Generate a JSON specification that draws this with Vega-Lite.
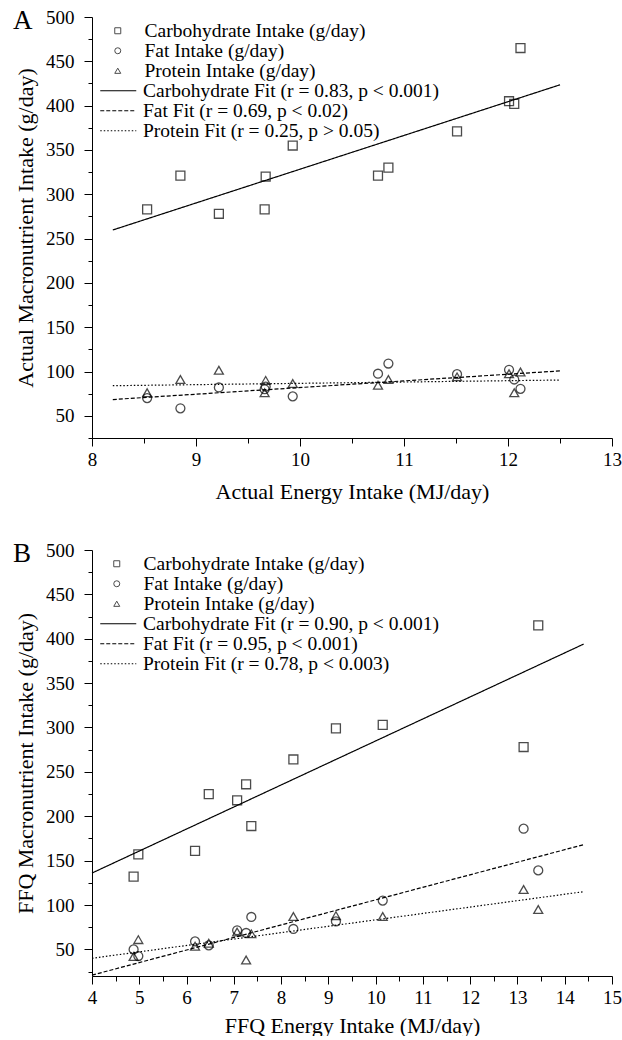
{
  "$schema": "https://vega.github.io/schema/vega-lite/v6.json",
  "background": "white",
  "padding": {"left": 13, "top": 8, "right": 0, "bottom": 0},
  "spacing": 39,
  "config": {
    "font": "Liberation Serif",
    "view": {"stroke": null},
    "axis": {
      "grid": false,
      "domainColor": "black",
      "domainWidth": 1,
      "tickColor": "black",
      "tickWidth": 1,
      "labelColor": "black",
      "titleColor": "black",
      "labelFont": "Liberation Serif",
      "titleFont": "Liberation Serif",
      "labelFontSize": 19,
      "titleFontSize": 22,
      "titleFontWeight": "normal",
      "labelFlush": false,
      "labelOverlap": false,
      "labelBound": false
    },
    "legend": {
      "labelFont": "Liberation Serif",
      "labelFontSize": 19.5,
      "labelColor": "black",
      "labelLimit": 0,
      "padding": 0,
      "rowPadding": 0.5,
      "labelOffset": 15,
      "symbolStrokeColor": "black",
      "symbolStrokeWidth": 1,
      "titleFont": "Liberation Serif",
      "titleFontSize": 27,
      "titleFontWeight": "normal",
      "titleColor": "black"
    }
  },
  "resolve": {
    "scale": {"shape": "independent", "strokeDash": "independent"},
    "legend": {"shape": "independent", "strokeDash": "independent"}
  },
  "datasets": {
    "a_points": [
      {"energy": 8.53, "intake": 283, "series": "Carbohydrate Intake (g/day)"},
      {"energy": 8.85, "intake": 321, "series": "Carbohydrate Intake (g/day)"},
      {"energy": 9.22, "intake": 278, "series": "Carbohydrate Intake (g/day)"},
      {"energy": 9.66, "intake": 283, "series": "Carbohydrate Intake (g/day)"},
      {"energy": 9.67, "intake": 320, "series": "Carbohydrate Intake (g/day)"},
      {"energy": 9.93, "intake": 355, "series": "Carbohydrate Intake (g/day)"},
      {"energy": 10.75, "intake": 321, "series": "Carbohydrate Intake (g/day)"},
      {"energy": 10.85, "intake": 330, "series": "Carbohydrate Intake (g/day)"},
      {"energy": 11.51, "intake": 371, "series": "Carbohydrate Intake (g/day)"},
      {"energy": 12.01, "intake": 405, "series": "Carbohydrate Intake (g/day)"},
      {"energy": 12.06, "intake": 402, "series": "Carbohydrate Intake (g/day)"},
      {"energy": 12.12, "intake": 465, "series": "Carbohydrate Intake (g/day)"},
      {"energy": 8.53, "intake": 70, "series": "Fat Intake (g/day)"},
      {"energy": 8.85, "intake": 58.5, "series": "Fat Intake (g/day)"},
      {"energy": 9.22, "intake": 82, "series": "Fat Intake (g/day)"},
      {"energy": 9.66, "intake": 80, "series": "Fat Intake (g/day)"},
      {"energy": 9.67, "intake": 83, "series": "Fat Intake (g/day)"},
      {"energy": 9.93, "intake": 72, "series": "Fat Intake (g/day)"},
      {"energy": 10.75, "intake": 97.5, "series": "Fat Intake (g/day)"},
      {"energy": 10.85, "intake": 109, "series": "Fat Intake (g/day)"},
      {"energy": 11.51, "intake": 97, "series": "Fat Intake (g/day)"},
      {"energy": 12.01, "intake": 102, "series": "Fat Intake (g/day)"},
      {"energy": 12.06, "intake": 91, "series": "Fat Intake (g/day)"},
      {"energy": 12.12, "intake": 80.5, "series": "Fat Intake (g/day)"},
      {"energy": 8.53, "intake": 76, "series": "Protein Intake (g/day)"},
      {"energy": 8.85, "intake": 91, "series": "Protein Intake (g/day)"},
      {"energy": 9.22, "intake": 101.5, "series": "Protein Intake (g/day)"},
      {"energy": 9.66, "intake": 76, "series": "Protein Intake (g/day)"},
      {"energy": 9.67, "intake": 90, "series": "Protein Intake (g/day)"},
      {"energy": 9.93, "intake": 86.5, "series": "Protein Intake (g/day)"},
      {"energy": 10.75, "intake": 84.5, "series": "Protein Intake (g/day)"},
      {"energy": 10.85, "intake": 91, "series": "Protein Intake (g/day)"},
      {"energy": 11.51, "intake": 94, "series": "Protein Intake (g/day)"},
      {"energy": 12.01, "intake": 97.5, "series": "Protein Intake (g/day)"},
      {"energy": 12.06, "intake": 76, "series": "Protein Intake (g/day)"},
      {"energy": 12.12, "intake": 99.5, "series": "Protein Intake (g/day)"}
    ],
    "a_fits": [
      {"energy": 8.2, "intake": 259.7, "fit": "Carbohydrate Fit (r = 0.83, p < 0.001)"},
      {"energy": 12.5, "intake": 423.5, "fit": "Carbohydrate Fit (r = 0.83, p < 0.001)"},
      {"energy": 8.2, "intake": 68.4, "fit": "Fat Fit (r = 0.69, p < 0.02)"},
      {"energy": 12.5, "intake": 100.7, "fit": "Fat Fit (r = 0.69, p < 0.02)"},
      {"energy": 8.2, "intake": 84, "fit": "Protein Fit (r = 0.25, p > 0.05)"},
      {"energy": 12.5, "intake": 90.4, "fit": "Protein Fit (r = 0.25, p > 0.05)"}
    ],
    "b_points": [
      {"energy": 4.88, "intake": 132, "series": "Carbohydrate Intake (g/day)"},
      {"energy": 4.98, "intake": 157, "series": "Carbohydrate Intake (g/day)"},
      {"energy": 6.18, "intake": 161, "series": "Carbohydrate Intake (g/day)"},
      {"energy": 6.47, "intake": 225, "series": "Carbohydrate Intake (g/day)"},
      {"energy": 7.07, "intake": 218, "series": "Carbohydrate Intake (g/day)"},
      {"energy": 7.26, "intake": 236, "series": "Carbohydrate Intake (g/day)"},
      {"energy": 7.37, "intake": 189, "series": "Carbohydrate Intake (g/day)"},
      {"energy": 8.26, "intake": 264, "series": "Carbohydrate Intake (g/day)"},
      {"energy": 9.16, "intake": 299, "series": "Carbohydrate Intake (g/day)"},
      {"energy": 10.15, "intake": 303, "series": "Carbohydrate Intake (g/day)"},
      {"energy": 13.13, "intake": 278, "series": "Carbohydrate Intake (g/day)"},
      {"energy": 13.44, "intake": 415, "series": "Carbohydrate Intake (g/day)"},
      {"energy": 4.88, "intake": 50, "series": "Fat Intake (g/day)"},
      {"energy": 4.98, "intake": 42.5, "series": "Fat Intake (g/day)"},
      {"energy": 6.18, "intake": 59, "series": "Fat Intake (g/day)"},
      {"energy": 6.47, "intake": 54.5, "series": "Fat Intake (g/day)"},
      {"energy": 7.07, "intake": 71.5, "series": "Fat Intake (g/day)"},
      {"energy": 7.26, "intake": 68.5, "series": "Fat Intake (g/day)"},
      {"energy": 7.37, "intake": 86.5, "series": "Fat Intake (g/day)"},
      {"energy": 8.26, "intake": 73, "series": "Fat Intake (g/day)"},
      {"energy": 9.16, "intake": 81.5, "series": "Fat Intake (g/day)"},
      {"energy": 10.15, "intake": 105, "series": "Fat Intake (g/day)"},
      {"energy": 13.13, "intake": 186, "series": "Fat Intake (g/day)"},
      {"energy": 13.44, "intake": 139, "series": "Fat Intake (g/day)"},
      {"energy": 4.88, "intake": 42, "series": "Protein Intake (g/day)"},
      {"energy": 4.98, "intake": 61, "series": "Protein Intake (g/day)"},
      {"energy": 6.18, "intake": 53.5, "series": "Protein Intake (g/day)"},
      {"energy": 6.47, "intake": 57, "series": "Protein Intake (g/day)"},
      {"energy": 7.07, "intake": 69.5, "series": "Protein Intake (g/day)"},
      {"energy": 7.26, "intake": 38, "series": "Protein Intake (g/day)"},
      {"energy": 7.37, "intake": 67.5, "series": "Protein Intake (g/day)"},
      {"energy": 8.26, "intake": 87, "series": "Protein Intake (g/day)"},
      {"energy": 9.16, "intake": 88, "series": "Protein Intake (g/day)"},
      {"energy": 10.15, "intake": 87, "series": "Protein Intake (g/day)"},
      {"energy": 13.13, "intake": 117.5, "series": "Protein Intake (g/day)"},
      {"energy": 13.44, "intake": 95, "series": "Protein Intake (g/day)"}
    ],
    "b_fits": [
      {"energy": 4, "intake": 136, "fit": "Carbohydrate Fit (r = 0.90, p < 0.001)"},
      {"energy": 14.4, "intake": 394, "fit": "Carbohydrate Fit (r = 0.90, p < 0.001)"},
      {"energy": 4, "intake": 21, "fit": "Fat Fit (r = 0.95, p < 0.001)"},
      {"energy": 14.4, "intake": 168, "fit": "Fat Fit (r = 0.95, p < 0.001)"},
      {"energy": 4, "intake": 40, "fit": "Protein Fit (r = 0.78, p < 0.003)"},
      {"energy": 14.4, "intake": 115, "fit": "Protein Fit (r = 0.78, p < 0.003)"}
    ]
  },
  "vconcat": [
    {
      "width": 520,
      "height": 421,
      "encoding": {
        "x": {"field": "energy", "type": "quantitative",
          "scale": {"domain": [8, 13], "nice": false, "zero": false},
          "axis": {"title": "Actual Energy Intake (MJ/day)",
            "values": [8, 8.5, 9, 9.5, 10, 10.5, 11, 11.5, 12, 12.5, 13],
            "labelExpr": "datum.value % 1 === 0 ? '' + datum.value : ''",
            "tickSize": {"condition": {"test": "datum.value % 1 === 0", "value": 8}, "value": 5},
            "labelPadding": 4, "titlePadding": 12}},
        "y": {"field": "intake", "type": "quantitative",
          "scale": {"domain": [25, 500], "nice": false, "zero": false},
          "axis": {"title": "Actual Macronutrient Intake (g/day)",
            "values": [25, 50, 75, 100, 125, 150, 175, 200, 225, 250, 275, 300, 325, 350, 375, 400, 425, 450, 475, 500],
            "labelExpr": "datum.value % 50 === 0 ? '' + datum.value : ''",
            "tickSize": {"condition": {"test": "datum.value % 50 === 0", "value": 8}, "value": 4},
            "labelPadding": 10, "titlePadding": 8}}
      },
      "layer": [
        {
          "data": {"name": "a_fits"},
          "mark": {"type": "line", "color": "black", "strokeWidth": 1.2},
          "encoding": {
            "strokeDash": {"field": "fit", "type": "nominal",
              "scale": {"domain": ["Carbohydrate Fit (r = 0.83, p < 0.001)", "Fat Fit (r = 0.69, p < 0.02)", "Protein Fit (r = 0.25, p > 0.05)"],
                "range": [[1, 0], [4, 2], [1.5, 2]]},
              "legend": {"title": null, "orient": "none", "legendX": 16.5, "legendY": 64, "rowPadding": -2, "symbolType": "M-6,0H6", "symbolSize": 36, "symbolStrokeWidth": 1.2}}
          }
        },
        {
          "data": {"name": "a_points"},
          "mark": {"type": "point", "filled": false, "color": "black", "size": 80, "strokeWidth": 1.3},
          "encoding": {
            "shape": {"field": "series", "type": "nominal",
              "scale": {"domain": ["Carbohydrate Intake (g/day)", "Fat Intake (g/day)", "Protein Intake (g/day)"],
                "range": ["square", "circle", "triangle-up"]},
              "legend": {"title": "A", "titleOrient": "left", "titleAnchor": "start", "titleBaseline": "middle", "titlePadding": 75, "labelOffset": 17, "rowPadding": -2.5, "orient": "none", "legendX": -79, "legendY": 4, "symbolSize": 36}}
          }
        }
      ]
    },
    {
      "width": 520,
      "height": 426,
      "encoding": {
        "x": {"field": "energy", "type": "quantitative",
          "scale": {"domain": [4, 15], "nice": false, "zero": false},
          "axis": {"title": "FFQ Energy Intake (MJ/day)",
            "values": [4, 4.5, 5, 5.5, 6, 6.5, 7, 7.5, 8, 8.5, 9, 9.5, 10, 10.5, 11, 11.5, 12, 12.5, 13, 13.5, 14, 14.5, 15],
            "labelExpr": "datum.value % 1 === 0 ? '' + datum.value : ''",
            "tickSize": {"condition": {"test": "datum.value % 1 === 0", "value": 8}, "value": 5},
            "labelPadding": 4, "titlePadding": 8}},
        "y": {"field": "intake", "type": "quantitative",
          "scale": {"domain": [20, 500], "nice": false, "zero": false},
          "axis": {"title": "FFQ Macronutrient Intake (g/day)",
            "values": [25, 50, 75, 100, 125, 150, 175, 200, 225, 250, 275, 300, 325, 350, 375, 400, 425, 450, 475, 500],
            "labelExpr": "datum.value % 50 === 0 ? '' + datum.value : ''",
            "tickSize": {"condition": {"test": "datum.value % 50 === 0", "value": 8}, "value": 4},
            "labelPadding": 10, "titlePadding": 8}}
      },
      "layer": [
        {
          "data": {"name": "b_fits"},
          "mark": {"type": "line", "color": "black", "strokeWidth": 1.2},
          "encoding": {
            "strokeDash": {"field": "fit", "type": "nominal",
              "scale": {"domain": ["Carbohydrate Fit (r = 0.90, p < 0.001)", "Fat Fit (r = 0.95, p < 0.001)", "Protein Fit (r = 0.78, p < 0.003)"],
                "range": [[1, 0], [4, 2], [1.5, 2]]},
              "legend": {"title": null, "orient": "none", "legendX": 16.5, "legendY": 64, "rowPadding": -2, "symbolType": "M-6,0H6", "symbolSize": 36, "symbolStrokeWidth": 1.2}}
          }
        },
        {
          "data": {"name": "b_points"},
          "mark": {"type": "point", "filled": false, "color": "black", "size": 80, "strokeWidth": 1.3},
          "encoding": {
            "shape": {"field": "series", "type": "nominal",
              "scale": {"domain": ["Carbohydrate Intake (g/day)", "Fat Intake (g/day)", "Protein Intake (g/day)"],
                "range": ["square", "circle", "triangle-up"]},
              "legend": {"title": "B", "titleOrient": "left", "titleAnchor": "start", "titleBaseline": "middle", "titlePadding": 75, "labelOffset": 17, "rowPadding": -2.5, "orient": "none", "legendX": -79, "legendY": 4, "symbolSize": 36}}
          }
        }
      ]
    }
  ]
}
